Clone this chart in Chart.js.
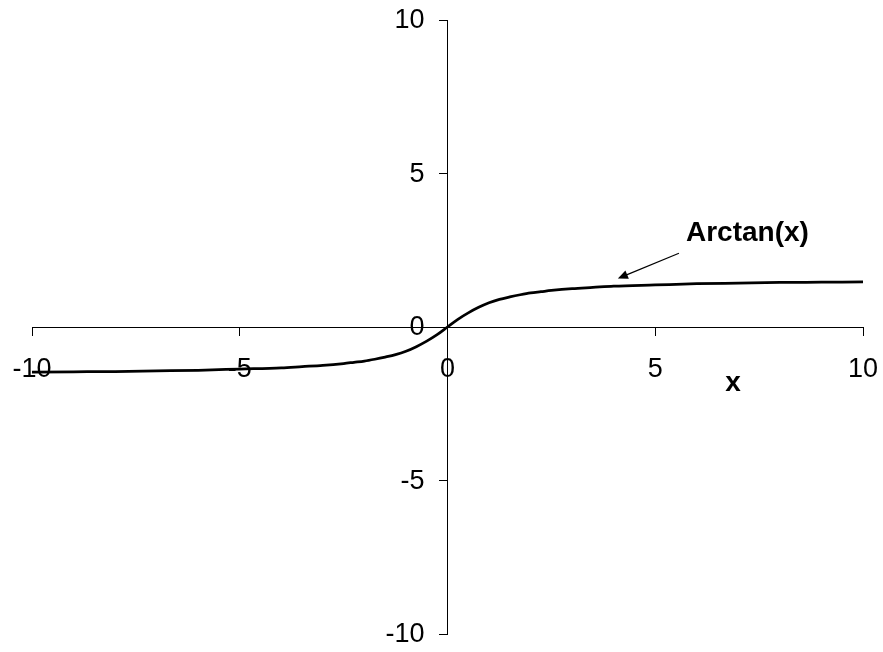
<!DOCTYPE html>
<html>
<head>
<meta charset="utf-8">
<script src="https://cdn.jsdelivr.net/npm/chart.js@4/dist/chart.umd.min.js"></script>
<style>
  html, body { margin: 0; padding: 0; background: #fff; }
  #wrap { width: 883px; height: 652px; }
</style>
</head>
<body>
<div id="wrap"><canvas id="c"></canvas></div>
<script>
// Sampled points of the curve
const xValues = [-10, -9, -8, -7, -6, -5, -4, -3.5, -3, -2.5, -2.25, -2, -1.75, -1.5, -1.25, -1, -0.75, -0.5, -0.25, 0,
                 0.25, 0.5, 0.75, 1, 1.25, 1.5, 1.75, 2, 2.25, 2.5, 3, 3.5, 4, 5, 6, 7, 8, 9, 10];
const arctanValues = [-1.47, -1.46, -1.45, -1.43, -1.41, -1.37, -1.33, -1.29, -1.25, -1.19, -1.15, -1.11, -1.05, -0.98, -0.90, -0.79, -0.64, -0.46, -0.25, 0,
                      0.25, 0.46, 0.64, 0.79, 0.90, 0.98, 1.05, 1.11, 1.15, 1.19, 1.25, 1.29, 1.33, 1.37, 1.41, 1.43, 1.45, 1.46, 1.47];
const xTicks = [-10, -5, 0, 5, 10];
const yTicks = [-10, -5, 0, 5, 10];
const seriesName = 'Arctan(x)';
const xAxisTitle = 'x';

// Callout text and arrow, in data units
const callout = { textX: 5.74, textY: 3.05, fromX: 5.57, fromY: 2.40, toX: 4.10, toY: 1.58 };
const xTitleAt = { x: 6.87, y: -1.84 };

const points = xValues.map((x, i) => ({ x: x, y: arctanValues[i] }));
const FONT = '"Liberation Sans", Arial, sans-serif';
const FONT_SIZE = 27;

const annotations = {
  id: 'annotations',
  afterDatasetsDraw(chart) {
    const { ctx, scales: { x, y } } = chart;
    ctx.save();
    ctx.fillStyle = '#000';
    ctx.strokeStyle = '#000';

    // y tick labels, right-aligned to the left of the vertical axis
    ctx.font = FONT_SIZE + 'px ' + FONT;
    ctx.textAlign = 'right';
    ctx.textBaseline = 'middle';
    const yAxisPx = x.getPixelForValue(0);
    y.ticks.forEach(t => {
      ctx.fillText(String(t.value), yAxisPx - 23, y.getPixelForValue(t.value) + 1);
    });

    ctx.font = 'bold 28px ' + FONT;
    ctx.textAlign = 'left';
    ctx.fillText(seriesName, x.getPixelForValue(callout.textX), y.getPixelForValue(callout.textY));
    ctx.textAlign = 'center';
    ctx.fillText(xAxisTitle, x.getPixelForValue(xTitleAt.x), y.getPixelForValue(xTitleAt.y));

    // arrow
    const x1 = x.getPixelForValue(callout.fromX), y1 = y.getPixelForValue(callout.fromY);
    const x2 = x.getPixelForValue(callout.toX), y2 = y.getPixelForValue(callout.toY);
    const ang = Math.atan2(y2 - y1, x2 - x1);
    const head = 11, spread = 0.42;
    ctx.lineWidth = 1.2;
    ctx.beginPath();
    ctx.moveTo(x1, y1);
    ctx.lineTo(x2 - Math.cos(ang) * head * 0.8, y2 - Math.sin(ang) * head * 0.8);
    ctx.stroke();
    ctx.beginPath();
    ctx.moveTo(x2, y2);
    ctx.lineTo(x2 - head * Math.cos(ang - spread), y2 - head * Math.sin(ang - spread));
    ctx.lineTo(x2 - head * Math.cos(ang + spread), y2 - head * Math.sin(ang + spread));
    ctx.closePath();
    ctx.fill();
    ctx.restore();
  }
};

const noPadding = s => { s.paddingLeft = 0; s.paddingRight = 0; s.paddingTop = 0; s.paddingBottom = 0; };

new Chart(document.getElementById('c'), {
  type: 'scatter',
  data: {
    datasets: [{
      label: seriesName,
      data: points,
      showLine: true,
      borderColor: '#000',
      borderWidth: 2.75,
      pointRadius: 0,
      cubicInterpolationMode: 'monotone',
      fill: false
    }]
  },
  options: {
    responsive: true,
    maintainAspectRatio: false,
    animation: false,
    layout: { padding: { left: 32, right: 20, top: 20, bottom: 18 } },
    plugins: { legend: { display: false }, tooltip: { enabled: false } },
    scales: {
      x: {
        type: 'linear',
        min: -10, max: 10,
        position: { y: 0 },
        afterBuildTicks: s => { s.ticks = xTicks.map(v => ({ value: v })); },
        afterFit: s => { s.height = 0; noPadding(s); },
        grid: { drawOnChartArea: false, drawTicks: true, tickLength: 8, color: '#000', lineWidth: 1 },
        border: { display: true, color: '#000', width: 1 },
        ticks: { color: '#000', font: { family: FONT, size: FONT_SIZE }, padding: 18, maxRotation: 0, autoSkip: false }
      },
      y: {
        type: 'linear',
        min: -10, max: 10,
        position: { x: 0 },
        afterBuildTicks: s => { s.ticks = yTicks.map(v => ({ value: v })); },
        afterFit: s => { s.width = 0; noPadding(s); },
        grid: { drawOnChartArea: false, drawTicks: true, tickLength: 8, color: '#000', lineWidth: 1 },
        border: { display: true, color: '#000', width: 1 },
        ticks: { display: false }
      }
    }
  },
  plugins: [annotations]
});
</script>
</body>
</html>
